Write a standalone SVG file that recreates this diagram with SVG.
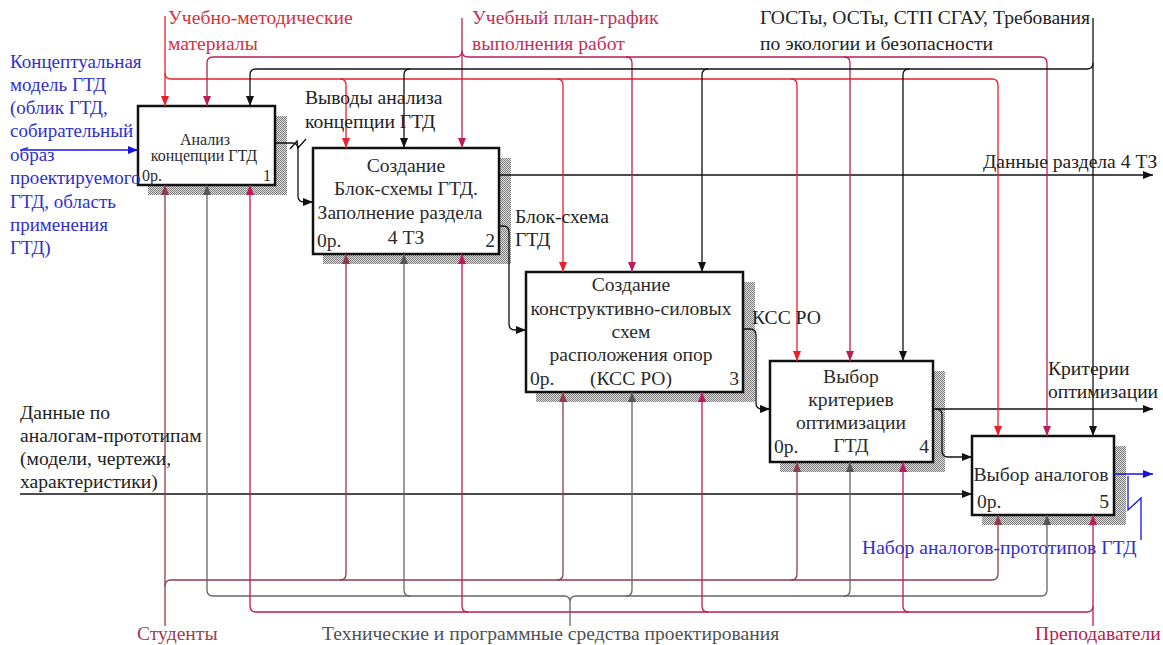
<svg xmlns="http://www.w3.org/2000/svg" width="1163" height="645" viewBox="0 0 1163 645">
<style>
  text { font-family: "Liberation Serif", "Times New Roman", "DejaVu Serif", serif; font-size: 19.6px; }
  .box { fill: #fff; stroke: #111; stroke-width: 2.5; }
  .shadow { fill: url(#hatch); }
  .nt { fill: #2a2a2a; text-anchor: middle; }
  .nn { fill: #2a2a2a; }
  .nr { fill: #2a2a2a; text-anchor: end; }
  .n1 { font-size: 16px; }
  .c { fill: none; stroke-width: 1.3; }
  .k { stroke: #111; }
  .r { stroke: #e8202a; }
  .m { stroke: #b81e58; }
  .s { stroke: #8c3c4a; }
  .g { stroke: #666; }
  .p { stroke: #c0185a; }
  .b { stroke: #1414e0; }
  .lk { fill: #222; }
  .lr { fill: #d8303c; }
  .lm { fill: #c03058; }
  .ls { fill: #a0404c; }
  .lg { fill: #505050; }
  .lp { fill: #b8204c; }
  .lb { fill: #3030cc; font-size: 19px; }
</style>
<defs>
  <pattern id="hatch" width="2" height="2" patternUnits="userSpaceOnUse">
    <rect width="2" height="2" fill="#e4e4e4"/>
    <rect width="1" height="1" fill="#777"/>
    <rect x="1" y="1" width="1" height="1" fill="#777"/>
  </pattern>
  <marker id="ak" viewBox="0 0 10 10" refX="10" refY="5" markerWidth="10" markerHeight="10" markerUnits="userSpaceOnUse" orient="auto"><path d="M0,1 L10,5 L0,9 z" fill="#111"/></marker>
  <marker id="ar" viewBox="0 0 10 10" refX="10" refY="5" markerWidth="10" markerHeight="10" markerUnits="userSpaceOnUse" orient="auto"><path d="M0,1 L10,5 L0,9 z" fill="#e8202a"/></marker>
  <marker id="am" viewBox="0 0 10 10" refX="10" refY="5" markerWidth="10" markerHeight="10" markerUnits="userSpaceOnUse" orient="auto"><path d="M0,1 L10,5 L0,9 z" fill="#b81e58"/></marker>
  <marker id="as" viewBox="0 0 10 10" refX="10" refY="5" markerWidth="10" markerHeight="10" markerUnits="userSpaceOnUse" orient="auto"><path d="M0,1 L10,5 L0,9 z" fill="#8c3c4a"/></marker>
  <marker id="ag" viewBox="0 0 10 10" refX="10" refY="5" markerWidth="10" markerHeight="10" markerUnits="userSpaceOnUse" orient="auto"><path d="M0,1 L10,5 L0,9 z" fill="#555"/></marker>
  <marker id="ap" viewBox="0 0 10 10" refX="10" refY="5" markerWidth="10" markerHeight="10" markerUnits="userSpaceOnUse" orient="auto"><path d="M0,1 L10,5 L0,9 z" fill="#c0185a"/></marker>
  <marker id="ab" viewBox="0 0 10 10" refX="10" refY="5" markerWidth="10" markerHeight="10" markerUnits="userSpaceOnUse" orient="auto"><path d="M0,1 L10,5 L0,9 z" fill="#1414e0"/></marker>
</defs>
<rect width="1163" height="645" fill="#fff"/>

<g id="node1">
  <rect class="shadow" x="148" y="116" width="139" height="79"/>
  <rect class="box" x="138" y="106" width="137" height="79"/>
  <text class="nt n1" x="205" y="145">Анализ</text>
  <text class="nt n1" x="204" y="161">концепции ГТД</text>
  <text class="nn n1" x="142" y="181">0р.</text>
  <text class="nr n1" x="271" y="181">1</text>
</g>
<g id="node2">
  <rect class="shadow" x="323" y="158" width="188" height="106"/>
  <rect class="box" x="313" y="148" width="186" height="106"/>
  <text class="nt" x="406" y="172">Создание</text>
  <text class="nt" x="406" y="195">Блок-схемы ГТД.</text>
  <text class="nt" x="400" y="219">Заполнение раздела</text>
  <text class="nt" x="406" y="244">4 ТЗ</text>
  <text class="nn" x="317" y="247">0р.</text>
  <text class="nr" x="495" y="247">2</text>
</g>
<g id="node3">
  <rect class="shadow" x="536" y="282" width="219" height="120"/>
  <rect class="box" x="526" y="272" width="217" height="120"/>
  <text class="nt" x="631" y="291">Создание</text>
  <text class="nt" x="631" y="315">конструктивно-силовых</text>
  <text class="nt" x="631" y="338">схем</text>
  <text class="nt" x="631" y="361">расположения опор</text>
  <text class="nt" x="631" y="385">(КСС РО)</text>
  <text class="nn" x="530" y="385">0р.</text>
  <text class="nr" x="739" y="385">3</text>
</g>
<g id="node4">
  <rect class="shadow" x="780" y="371" width="165" height="101"/>
  <rect class="box" x="770" y="361" width="163" height="101"/>
  <text class="nt" x="851" y="383">Выбор</text>
  <text class="nt" x="851" y="406">критериев</text>
  <text class="nt" x="851" y="429">оптимизации</text>
  <text class="nt" x="851" y="452">ГТД</text>
  <text class="nn" x="774" y="453">0р.</text>
  <text class="nr" x="929" y="453">4</text>
</g>
<g id="node5">
  <rect class="shadow" x="982" y="446" width="144" height="79"/>
  <rect class="box" x="972" y="436" width="142" height="79"/>
  <text class="nt" x="1041" y="481">Выбор аналогов</text>
  <text class="nn" x="977" y="508">0р.</text>
  <text class="nr" x="1109" y="508">5</text>
</g>

<g id="connectors">
  <path class="c b" d="M20 150 L138 150" marker-end="url(#ab)"/>
  <path class="c k" d="M275 143 L292 143 Q298 143 298 149 L298 196 Q298 202 304 202 L313 202" marker-end="url(#ak)"/>
  <path class="c k" d="M290 149 L297 141 L298 148 L306 139"/>
  <path class="c k" d="M499 175 L1153 175" marker-end="url(#ak)"/>
  <path class="c k" d="M499 226 L503 226 Q509 226 509 232 L509 324 Q509 330 515 330 L526 330" marker-end="url(#ak)"/>
  <path class="c k" d="M743 329 L750 329 Q756 329 756 335 L756 403 Q756 409 762 409 L770 409" marker-end="url(#ak)"/>
  <path class="c k" d="M933 409 L1153 409" marker-end="url(#ak)"/>
  <path class="c k" d="M936 409 Q942 409 942 415 L942 451 Q942 457 948 457 L972 457" marker-end="url(#ak)"/>
  <path class="c k" d="M20 494 L972 494" marker-end="url(#ak)"/>
  <path class="c b" d="M1114 474 L1153 474" marker-end="url(#ab)"/>
  <path class="c b" d="M1128 476 L1128 510 L1141 498 L1141 540"/>

  <path class="c r" d="M165 16 L165 106" marker-end="url(#ar)"/>
  <path class="c r" d="M165 73 Q165 79 171 79 L992 79 Q998 79 998 85 L998 436" marker-end="url(#ar)"/>
  <path class="c r" d="M340 79 Q346 79 346 85 L346 148" marker-end="url(#ar)"/>
  <path class="c r" d="M557 79 Q563 79 563 85 L563 272" marker-end="url(#ar)"/>
  <path class="c r" d="M791 79 Q797 79 797 85 L797 361" marker-end="url(#ar)"/>

  <path class="c m" d="M462 18 L462 148" marker-end="url(#am)"/>
  <path class="c m" d="M456 57 Q462 57 462 51 M468 57 Q462 57 462 51"/>
  <path class="c m" d="M456 57 L213 57 Q207 57 207 63 L207 106" marker-end="url(#am)"/>
  <path class="c m" d="M468 57 L1041 57 Q1047 57 1047 63 L1047 436" marker-end="url(#am)"/>
  <path class="c m" d="M626 57 Q632 57 632 63 L632 272" marker-end="url(#am)"/>
  <path class="c m" d="M844 57 Q850 57 850 63 L850 361" marker-end="url(#am)"/>

  <path class="c k" d="M1093 18 L1093 436" marker-end="url(#ak)"/>
  <path class="c k" d="M1093 63 Q1093 69 1087 69 L256 69 Q250 69 250 75 L250 106" marker-end="url(#ak)"/>
  <path class="c k" d="M410 69 Q404 69 404 75 L404 148" marker-end="url(#ak)"/>
  <path class="c k" d="M708 69 Q702 69 702 75 L702 272" marker-end="url(#ak)"/>
  <path class="c k" d="M909 69 Q903 69 903 75 L903 361" marker-end="url(#ak)"/>

  <path class="c s" d="M165 626 L165 185" marker-end="url(#as)"/>
  <path class="c s" d="M165 586 Q165 580 171 580 L992 580 Q998 580 998 574 L998 515" marker-end="url(#as)"/>
  <path class="c s" d="M340 580 Q346 580 346 574 L346 254" marker-end="url(#as)"/>
  <path class="c s" d="M557 580 Q563 580 563 574 L563 392" marker-end="url(#as)"/>
  <path class="c s" d="M791 580 Q797 580 797 574 L797 462" marker-end="url(#as)"/>

  <path class="c g" d="M570 626 L570 602 Q570 596 564 596 M570 602 Q570 596 576 596"/>
  <path class="c g" d="M564 596 L213 596 Q207 596 207 590 L207 185" marker-end="url(#ag)"/>
  <path class="c g" d="M576 596 L1041 596 Q1047 596 1047 590 L1047 515" marker-end="url(#ag)"/>
  <path class="c g" d="M410 596 Q404 596 404 590 L404 254" marker-end="url(#ag)"/>
  <path class="c g" d="M626 596 Q632 596 632 590 L632 392" marker-end="url(#ag)"/>
  <path class="c g" d="M844 596 Q850 596 850 590 L850 462" marker-end="url(#ag)"/>

  <path class="c p" d="M1093 626 L1093 515" marker-end="url(#ap)"/>
  <path class="c p" d="M1093 606 Q1093 612 1087 612 L256 612 Q250 612 250 606 L250 185" marker-end="url(#ap)"/>
  <path class="c p" d="M468 612 Q462 612 462 606 L462 254" marker-end="url(#ap)"/>
  <path class="c p" d="M708 612 Q702 612 702 606 L702 392" marker-end="url(#ap)"/>
  <path class="c p" d="M909 612 Q903 612 903 606 L903 462" marker-end="url(#ap)"/>
</g>

<g id="labels">
  <text class="lr" x="168" y="24">Учебно-методические</text>
  <text class="lr" x="168" y="50">материалы</text>
  <text class="lm" x="472" y="24">Учебный план-график</text>
  <text class="lm" x="472" y="50">выполнения работ</text>
  <text class="lk" x="760" y="24">ГОСТы, ОСТы, СТП СГАУ, Требования</text>
  <text class="lk" x="760" y="50">по экологии и безопасности</text>
  <text class="lb" x="10" y="68">Концептуальная</text>
  <text class="lb" x="10" y="91">модель ГТД</text>
  <text class="lb" x="10" y="114">(облик ГТД,</text>
  <text class="lb" x="10" y="137">собирательный</text>
  <text class="lb" x="10" y="161">образ</text>
  <text class="lb" x="10" y="184">проектируемого</text>
  <text class="lb" x="10" y="208">ГТД, область</text>
  <text class="lb" x="10" y="231">применения</text>
  <text class="lb" x="10" y="254">ГТД)</text>
  <text class="lk" x="305" y="104">Выводы анализа</text>
  <text class="lk" x="305" y="128">концепции ГТД</text>
  <text class="lk" x="983" y="168">Данные раздела 4 ТЗ</text>
  <text class="lk" x="515" y="223">Блок-схема</text>
  <text class="lk" x="515" y="246">ГТД</text>
  <text class="lk" x="752" y="324">КСС РО</text>
  <text class="lk" x="1048" y="375">Критерии</text>
  <text class="lk" x="1048" y="398">оптимизации</text>
  <text class="lk" x="20" y="419">Данные по</text>
  <text class="lk" x="20" y="442">аналогам-прототипам</text>
  <text class="lk" x="20" y="465">(модели, чертежи,</text>
  <text class="lk" x="20" y="488">характеристики)</text>
  <text class="lb" x="862" y="554" style="font-size:19.6px">Набор аналогов-прототипов ГТД</text>
  <text class="ls" x="137" y="640">Студенты</text>
  <text class="lg" x="322" y="640">Технические и программные средства проектирования</text>
  <text class="lp" x="1035" y="640">Преподаватели</text>
</g>
</svg>
